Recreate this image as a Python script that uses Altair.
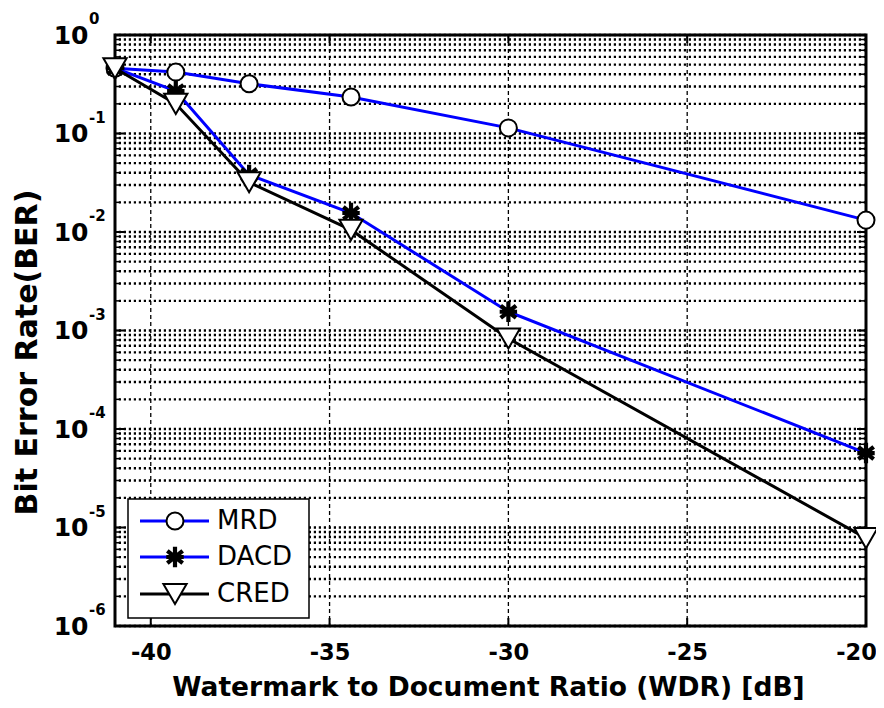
import altair as alt
import pandas as pd

# ---- data ----
wdr = [-41, -39.3, -37.25, -34.4, -30, -20]
mrd = [0.46, 0.42, 0.32, 0.235, 0.114, 0.0132]
dacd = [0.46, 0.27, 0.038, 0.0156, 0.00155, 5.7e-5]
cred = [0.46, 0.20, 0.032, 0.0105, 0.00083, 7.8e-6]
series_names = ["MRD", "DACD", "CRED"]
x_ticks = [-40, -35, -30, -25, -20]
x_grid = [-40, -35, -30, -25]
y_exps = [0, -1, -2, -3, -4, -5, -6]

W, H = 751, 591
FONT = "DejaVu Sans"
BLUE = "#0000ff"

rows = []
for name, vals in zip(series_names, [mrd, dacd, cred]):
    for xv, yv in zip(wdr, vals):
        rows.append({"series": name, "wdr": xv, "ber": yv})
df = pd.DataFrame(rows)

minor_vals = []
for e in range(0, -7, -1):
    for m in range(1, 10):
        v = m * 10.0 ** e
        if 1e-6 - 1e-12 <= v <= 1.0 + 1e-12:
            minor_vals.append(v)
hgrid_df = pd.DataFrame({"ber": minor_vals})
major_df = pd.DataFrame({"ber": [10.0 ** e for e in y_exps],
                         "exp": [str(e) for e in y_exps]})
vgrid_df = pd.DataFrame({"wdr": x_grid})
xt_df = pd.DataFrame({"wdr": x_ticks})

xscale = alt.Scale(domain=[-41, -20], nice=False, zero=False)
yscale = alt.Scale(type="log", domain=[1e-6, 1], nice=False)

xaxis = alt.Axis(values=x_ticks, grid=False, ticks=False, domain=False,
                 labelExpr="toString(datum.value)",
                 labelFont=FONT, labelFontWeight="bold", labelFontSize=22.5,
                 labelColor="black", labelPadding=15, labelFlush=False,
                 labelOverlap=False,
                 labelOffset={"condition": {"test": "datum.value == -20", "value": -10},
                              "value": 0},
                 title="Watermark to Document Ratio (WDR) [dB]",
                 titleFont=FONT, titleFontWeight="bold", titleFontSize=26.5,
                 titleColor="black", titleX=373, titleY=61,
                 titleBaseline="middle", titleAlign="center")
yaxis = alt.Axis(values=[10.0 ** e for e in y_exps], grid=False, ticks=False,
                 domain=False, labelExpr="'10'",
                 labelFont=FONT, labelFontWeight="bold", labelFontSize=25,
                 labelColor="black", labelPadding=27,
                 title="Bit Error Rate(BER)",
                 titleFont=FONT, titleFontWeight="bold", titleFontSize=30,
                 titleColor="black", titleX=-88, titleY=317,
                 titleAngle=-90, titleAlign="center", titleBaseline="middle")


def X():
    return alt.X("wdr:Q", scale=xscale, axis=xaxis)


def Y():
    return alt.Y("ber:Q", scale=yscale, axis=yaxis)


layers = []
# horizontal dotted grid
layers.append(alt.Chart(hgrid_df).mark_rule(color="black", strokeWidth=2.4,
                                            strokeDash=[2.2, 2.8]).encode(y=Y()))
# vertical dashed grid
layers.append(alt.Chart(vgrid_df).mark_rule(color="black", strokeWidth=1.3,
                                            strokeDash=[4, 3]).encode(x=X()))
# y ticks (inward, both sides)
layers.append(alt.Chart(hgrid_df).mark_rule(color="black", strokeWidth=1.5).encode(
    y=Y(), x=alt.value(0), x2=alt.value(5)))
layers.append(alt.Chart(hgrid_df).mark_rule(color="black", strokeWidth=1.5).encode(
    y=Y(), x=alt.value(W - 5), x2=alt.value(W)))
layers.append(alt.Chart(major_df).mark_rule(color="black", strokeWidth=2).encode(
    y=Y(), x=alt.value(0), x2=alt.value(9)))
layers.append(alt.Chart(major_df).mark_rule(color="black", strokeWidth=2).encode(
    y=Y(), x=alt.value(W - 9), x2=alt.value(W)))
# x ticks (inward, bottom and top)
layers.append(alt.Chart(xt_df).mark_rule(color="black", strokeWidth=2).encode(
    x=X(), y=alt.value(H - 8), y2=alt.value(H)))
layers.append(alt.Chart(xt_df).mark_rule(color="black", strokeWidth=2).encode(
    x=X(), y=alt.value(0), y2=alt.value(8)))
# exponents of the y labels
layers.append(alt.Chart(major_df).mark_text(
    align="left", baseline="middle", dy=-16, font=FONT, fontWeight="bold",
    fontSize=15, color="black").encode(y=Y(), x=alt.value(-26), text="exp:N"))

asterisk = "M-0.85,0L0.85,0M0,-1L0,1M-0.75,-0.6L0.75,0.6M-0.75,0.6L0.75,-0.6"
styles = {
    "MRD": dict(line=BLUE, shape="circle", size=290, fill="white", stroke="black", sw=2),
    "DACD": dict(line=BLUE, shape=asterisk, size=420, fill="black", stroke="black", sw=4.2),
    "CRED": dict(line="black", shape="triangle-down", size=540, fill="white", stroke="black", sw=2),
}

for name in series_names:
    st = styles[name]
    sub = df[df.series == name]
    layers.append(alt.Chart(sub).mark_line(color=st["line"], strokeWidth=3).encode(
        x=X(), y=Y()))
    layers.append(alt.Chart(sub).mark_point(
        shape=st["shape"], size=st["size"], filled=True, fill=st["fill"],
        stroke=st["stroke"], strokeWidth=st["sw"], opacity=1).encode(x=X(), y=Y()))

# legend
layers.append(alt.Chart(pd.DataFrame({"a": [0]})).mark_rect(
    fill="white", stroke="black", strokeWidth=1.5).encode(
    x=alt.value(13), x2=alt.value(194), y=alt.value(464), y2=alt.value(583)))
legend_y = [486, 522, 559]
for name, ly in zip(series_names, legend_y):
    st = styles[name]
    ldf = pd.DataFrame({"name": [name]})
    layers.append(alt.Chart(ldf).mark_rule(color=st["line"], strokeWidth=3).encode(
        x=alt.value(25), x2=alt.value(94), y=alt.value(ly)))
    layers.append(alt.Chart(ldf).mark_point(
        shape=st["shape"], size=st["size"], filled=True, fill=st["fill"],
        stroke=st["stroke"], strokeWidth=st["sw"], opacity=1).encode(
        x=alt.value(60), y=alt.value(ly)))
    layers.append(alt.Chart(ldf).mark_text(
        align="left", baseline="middle", font=FONT, fontSize=26,
        color="black").encode(x=alt.value(102), y=alt.value(ly), text="name:N"))

chart = alt.layer(*layers).properties(
    width=W, height=H,
    autosize=alt.AutoSizeParams(type="none"),
    padding={"left": 107, "top": 27, "right": 10, "bottom": 74},
    background="white",
).configure_view(stroke="black", strokeWidth=3)

chart.save("out.html", embed_options={"renderer": "svg", "actions": False})
